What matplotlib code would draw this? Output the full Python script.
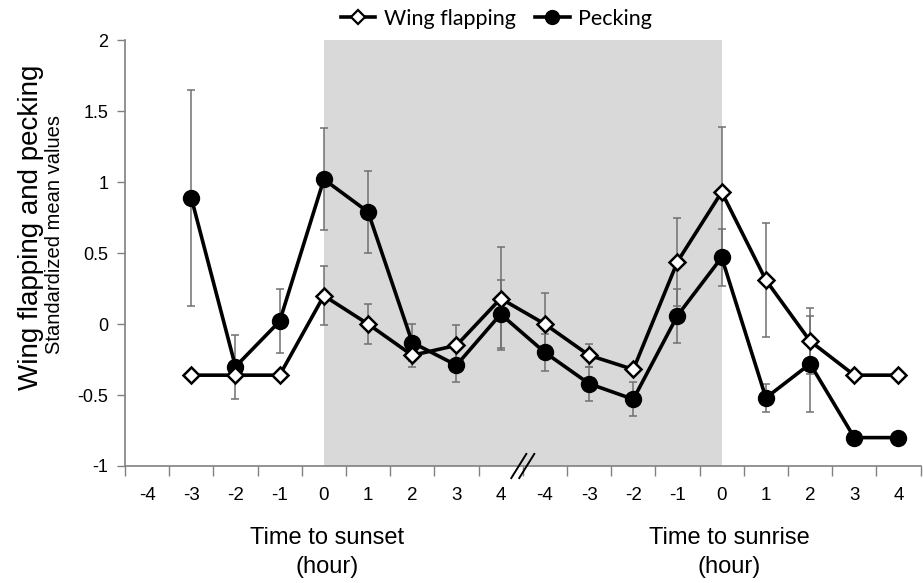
import matplotlib.pyplot as plt
from matplotlib.lines import Line2D
import numpy as np

# hour labels: 4 h either side of sunset, then 4 h either side of sunrise
hour_labels = ["-4", "-3", "-2", "-1", "0", "1", "2", "3", "4",
               "-4", "-3", "-2", "-1", "0", "1", "2", "3", "4"]

wing = [np.nan, -0.36, -0.36, -0.36, 0.20, 0.00, -0.22, -0.15, 0.18,
        0.00, -0.22, -0.32, 0.44, 0.93, 0.31, -0.12, -0.36, -0.36]
wing_err = [0, 0, 0, 0, 0.21, 0.14, 0.08, 0.14, 0.36,
            0.22, 0.08, 0, 0.31, 0.46, 0.40, 0.23, 0, 0]

peck = [np.nan, 0.89, -0.30, 0.02, 1.02, 0.79, -0.13, -0.29, 0.07,
        -0.20, -0.42, -0.53, 0.06, 0.47, -0.52, -0.28, -0.80, -0.80]
peck_err = [0, 0.76, 0.225, 0.225, 0.36, 0.29, 0.13, 0.12, 0.24,
            0.13, 0.12, 0.12, 0.19, 0.20, 0.10, 0.34, 0, 0]

arial = ["Liberation Sans", "DejaVu Sans"]

x = np.arange(len(hour_labels))

fig = plt.figure(figsize=(9.23, 5.83), dpi=100)
ax = fig.add_axes([0.1354, 0.2007, 0.862, 0.7303])

# dark period between sunset and sunrise
ax.axvspan(4, 13, color="#d9d9d9", lw=0, zorder=0)

def errs(vals, err):
    v = np.array(vals)
    e = np.array(err, dtype=float)
    keep = e > 0
    ax.errorbar(x[keep], v[keep], yerr=e[keep], fmt="none", ecolor="#707070",
                elinewidth=1.1, capsize=3, capthick=1.1, zorder=2)

errs(wing, wing_err)
errs(peck, peck_err)

ax.plot(x, wing, "-", color="black", lw=2.6, marker="D", ms=8.5,
        mfc="white", mec="black", mew=1.8, zorder=4)
ax.plot(x, peck, "-", color="black", lw=2.6, marker="o", ms=11.5,
        mfc="black", mec="black", zorder=3)

ax.set_xlim(-0.5, 17.5)
ax.set_ylim(-1, 2)
ax.set_yticks([-1, -0.5, 0, 0.5, 1, 1.5, 2])
ax.set_yticklabels(["-1", "-0.5", "0", "0.5", "1", "1.5", "2"],
                   family=arial, fontsize=13)

# ticks sit between categories, labels at the centres
ax.set_xticks(np.arange(-0.5, 18, 1))
ax.set_xticklabels([])
ax.set_xticks(x, minor=True)
ax.set_xticklabels(hour_labels, minor=True, family=arial, fontsize=13.5)
ax.tick_params(axis="x", which="major", length=7, width=1, color="#808080",
               direction="out")
ax.tick_params(axis="x", which="minor", length=0, pad=15)
ax.tick_params(axis="y", length=6, width=1, color="#808080", direction="out",
               pad=6)

for s in ["top", "right"]:
    ax.spines[s].set_visible(False)
for s in ["left", "bottom"]:
    ax.spines[s].set_color("#808080")
    ax.spines[s].set_linewidth(1.2)

# axis break mark between the two time blocks
for dx in (-0.09, 0.09):
    ax.plot([8.5 + dx - 0.17, 8.5 + dx + 0.17], [-1.085, -0.915],
            color="black", lw=1.4, clip_on=False, zorder=6)

fig.text(0.354, 0.052, "Time to sunset\n(hour)", ha="center", va="center",
         family=arial, fontsize=17, linespacing=1.4)
fig.text(0.79, 0.052, "Time to sunrise\n(hour)", ha="center", va="center",
         family=arial, fontsize=17, linespacing=1.4)

fig.text(0.034, 0.61, "Wing flapping and pecking", rotation=90,
         ha="center", va="center", family=arial, fontsize=20)
fig.text(0.059, 0.597, "Standardized mean values", rotation=90,
         ha="center", va="center", family=arial, fontsize=14.5)

handles = [
    Line2D([], [], color="black", lw=2.6, marker="D", ms=7, mfc="white",
           mec="black", mew=1.6),
    Line2D([], [], color="black", lw=2.6, marker="o", ms=10, mfc="black"),
]
fig.legend(handles, ["Wing flapping", "Pecking"], loc="center",
           bbox_to_anchor=(0.538, 0.968), ncol=2, frameon=False,
           handlelength=1.6, handletextpad=0.4, columnspacing=0.9,
           prop={"family": ["Lato", "DejaVu Sans"], "size": 15.5})

fig.savefig("out.png", dpi=100)
